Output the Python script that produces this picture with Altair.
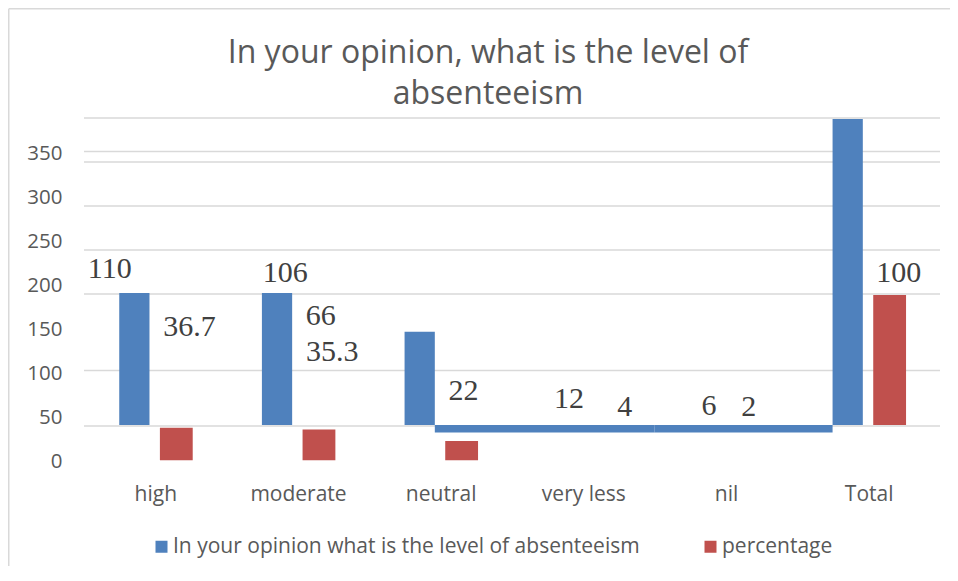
import altair as alt
import pandas as pd

# ---------------- data ----------------
categories = ["high", "moderate", "neutral", "very less", "nil", "Total"]
series_names = ["In your opinion what is the level of absenteeism", "percentage"]
series_colors = ["#4F81BD", "#C0504D"]

count_labels = ["110", "106", "66", "12", "6", None]
pct_labels = ["36.7", "35.3", "22", "4", "2", "100"]

# bar extents as drawn
blue_base = 51
blue_top = [201, 201, 157, 42.5, 42.5, 399]
red_low = [11, 11, 11, None, None, 51]
red_high = [48, 46, 33, None, None, 199]

# where the data labels sit (x in category units, y in axis units)
count_label_x = [0.18, 1.41, 1.66, 3.40, 4.38, None]
count_label_y = [228, 224, 175, 81, 73, None]
pct_label_x = [0.74, 1.74, 2.66, 3.79, 4.66, 5.71]
pct_label_y = [162, 134, 90, 72, 72, 224]

tick_values = [0, 50, 100, 150, 200, 250, 300, 350]
grid_values = [50, 113, 200, 250, 300, 350, 362, 400]

# ---------------- layout helpers ----------------
W, H = 856, 352
PAD = {"left": 76, "top": 110, "right": 10, "bottom": 96}
n = len(categories)
BLUE_OFF, BLUE_HALF = -0.147, 0.106
RED_OFF, RED_HALF = 0.147, 0.115

rows = []
collapsed = [t < blue_base for t in blue_top]
for i, c in enumerate(categories):
    cx = i + 0.5
    if collapsed[i]:
        x1 = (i - 1 + 0.5 + BLUE_OFF + BLUE_HALF) if not collapsed[i - 1] else i
        x2 = (i + 1 + 0.5 + BLUE_OFF - BLUE_HALF) if not collapsed[i + 1] else i + 1
    else:
        x1, x2 = cx + BLUE_OFF - BLUE_HALF, cx + BLUE_OFF + BLUE_HALF
    rows.append(dict(cat=c, series=series_names[0], x=x1, x2=x2,
                     y=min(blue_base, blue_top[i]), y2=max(blue_base, blue_top[i])))
    if red_low[i] is not None:
        rows.append(dict(cat=c, series=series_names[1],
                         x=cx + RED_OFF - RED_HALF, x2=cx + RED_OFF + RED_HALF,
                         y=red_low[i], y2=red_high[i]))
bars = pd.DataFrame(rows)

lab_rows = []
for i in range(n):
    if count_labels[i] is not None:
        lab_rows.append(dict(x=count_label_x[i], y=count_label_y[i], t=count_labels[i]))
    if pct_labels[i] is not None:
        lab_rows.append(dict(x=pct_label_x[i], y=pct_label_y[i], t=pct_labels[i]))
labels = pd.DataFrame(lab_rows)

grid = pd.DataFrame({"y": grid_values})

xscale = alt.Scale(domain=[0, n], nice=False, zero=False)
yscale = alt.Scale(domain=[0, 400], nice=False, zero=False)

label_expr = "[" + ",".join("'%s'" % c for c in categories) + "][floor(datum.value)]"
X = alt.X("x:Q", scale=xscale, axis=alt.Axis(
    values=[i + 0.5 for i in range(n)], labelExpr=label_expr, title=None,
    domain=False, ticks=False, grid=False, labelPadding=13,
    labelFont="Open Sans", labelFontSize=21, labelColor="#595959"))
Y = alt.Y("y:Q", scale=yscale, axis=alt.Axis(
    values=tick_values, title=None, domain=False, ticks=False, grid=False,
    labelPadding=22, labelOffset=-9, labelFont="Open Sans", labelFontSize=20.5,
    labelColor="#595959"))

one = pd.DataFrame({"a": [0]})
border_top = alt.Chart(one).mark_rule(color="#d9d9d9", strokeWidth=1.5).encode(
    x=alt.value(-PAD["left"] + 0.75), x2=alt.value(W + PAD["right"]),
    y=alt.value(-PAD["top"] + 0.75))
border_left = alt.Chart(one).mark_rule(color="#d9d9d9", strokeWidth=1.5).encode(
    x=alt.value(-PAD["left"] + 0.75),
    y=alt.value(-PAD["top"] + 0.75), y2=alt.value(H + PAD["bottom"]))

grid_layer = alt.Chart(grid).mark_rule(color="#d9d9d9", strokeWidth=1.6).encode(
    y=Y, x=alt.value(0), x2=alt.value(W))

bar_layer = alt.Chart(bars).mark_rect().encode(
    x=X, x2="x2:Q", y=Y, y2="y2:Q",
    color=alt.Color("series:N", scale=alt.Scale(domain=series_names, range=series_colors),
                    legend=alt.Legend(orient="none", legendX=67, legendY=418,
                                      direction="horizontal", title=None,
                                      symbolType="square", symbolSize=144,
                                      symbolStrokeWidth=0, symbolOpacity=1,
                                      labelFont="Open Sans", labelFontSize=21,
                                      labelColor="#595959", labelOffset=1,
                                      columnPadding=60, labelLimit=1000)))

text_layer = alt.Chart(labels).mark_text(
    font="Liberation Serif", fontSize=30, color="#404040", baseline="middle", align="center"
).encode(x=X, y=Y, text="t:N")

chart = alt.layer(border_top, border_left, grid_layer, bar_layer, text_layer).properties(
    width=W, height=H,
    autosize=alt.AutoSizeParams(type="none"),
    padding=PAD,
    title=alt.TitleParams(
        ["In your opinion, what is the level of", "absenteeism"],
        font="Open Sans", fontSize=32, fontWeight="normal", color="#595959",
        anchor="middle", frame="group", dx=-24, offset=-103, lineHeight=41),
).configure_view(stroke=None)

chart.save("out.html", embed_options={"renderer": "svg", "actions": False})
